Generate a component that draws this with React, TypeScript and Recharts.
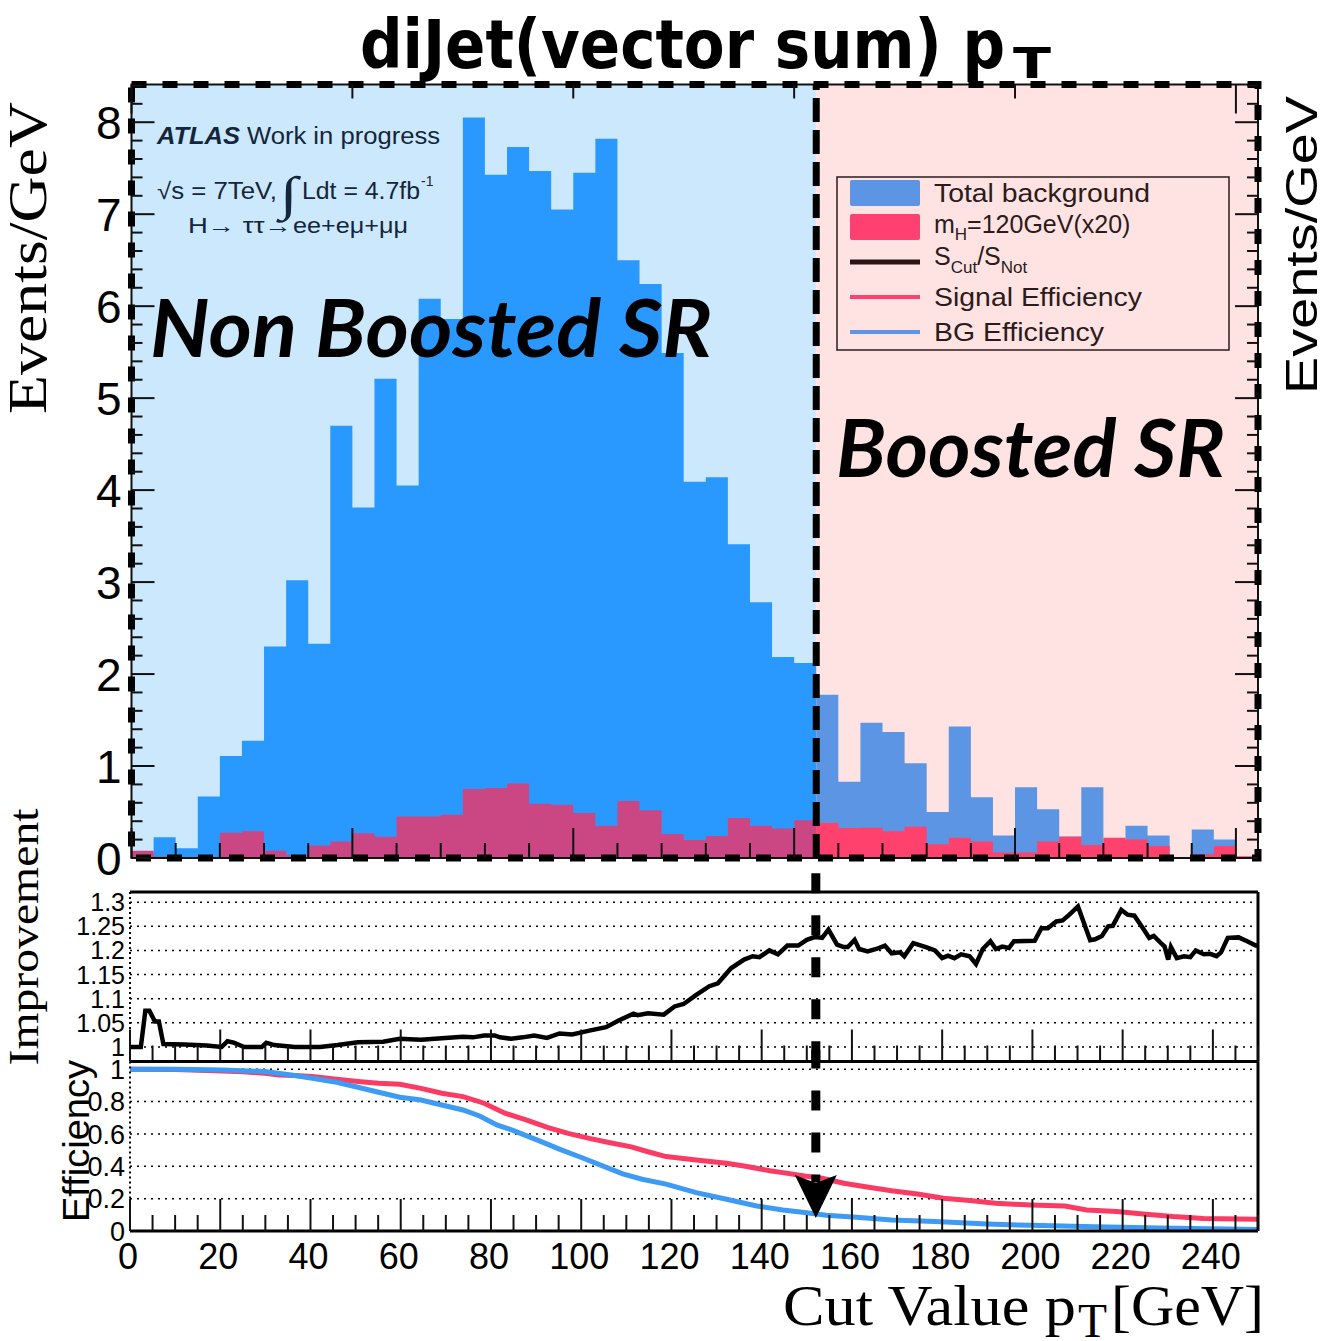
import React from "react";
import {
  Area,
  CartesianGrid,
  ComposedChart,
  Legend,
  Line,
  ReferenceArea,
  ReferenceDot,
  ReferenceLine,
  XAxis,
  YAxis,
} from "recharts";

// ---- data ----

// 5 GeV bins, low edges, top panel runs 0..255
const binLow = Array.from({ length: 51 }, (_, i) => i * 5);
const binHigh = 255;

const background = [
  0.05, 0.225, 0.105, 0.67, 1.11, 1.275, 2.3, 3.02, 2.33, 4.7,
  3.81, 5.21, 4.05, 6.08, 5.86, 8.05, 7.43, 7.73, 7.47, 7.05,
  7.45, 7.82, 6.5, 6.24, 5.49, 4.09, 4.14, 3.41, 2.78, 2.185,
  2.12, 1.775, 0.83, 1.47, 1.37, 1.03, 0.5, 1.43, 0.66, 0.245,
  0.77, 0.53, 0.235, 0.77, 0.15, 0.35, 0.245, 0.0, 0.31, 0.2,
  0.0,
];

const signal = [
  0.08, 0.015, 0.01, 0.01, 0.275, 0.29, 0.08, 0.03, 0.135, 0.18,
  0.27, 0.23, 0.45, 0.45, 0.47, 0.75, 0.76, 0.81, 0.59, 0.58,
  0.49, 0.35, 0.62, 0.52, 0.26, 0.195, 0.24, 0.435, 0.35, 0.32,
  0.41, 0.38, 0.325, 0.33, 0.29, 0.34, 0.15, 0.22, 0.18, 0.06,
  0.06, 0.18, 0.23, 0.14, 0.22, 0.2, 0.13, 0.0, 0.04, 0.13,
  0.02,
];

// region split: histogram edge in the top panel, cut value in the lower panels
const boostEdge = 155;
const cutValue = 152;

// S_cut / S_not
const impX = [
  0, 2.4, 3.4, 4.3, 5.5, 6.4, 7.4, 12, 17, 20.3, 21.6, 23, 25.3, 29.2, 30.2, 32, 36.5, 42.1, 46,
  50.5, 56.1, 59.8, 62, 64.5, 69.1, 73.8, 76, 78.5, 80.8, 82, 84.5, 87, 89.6, 92.4, 95.2, 98,
  101.8, 105.5, 108.3, 111.6, 112.5, 114.8, 118.3, 120.7, 122.7, 125.5, 128.4, 130.3, 133.2,
  136.1, 138, 139.5, 141.7, 143.6, 145.7, 148.1, 150, 151.9, 153.4, 154.8, 156.7, 158.2, 159.1,
  160.6, 161.6, 163.5, 165.4, 167.3, 168.8, 170.7, 171.6, 173.6, 176.4, 178.4, 180, 181.3, 182.7,
  184.2, 186.1, 187.5, 189, 190.7, 191.9, 193.3, 194.8, 195.9, 200.5, 202, 203.4, 205.3, 206.7,
  208.2, 210.1, 212.8, 213.9, 215.4, 216.8, 217.8, 219.7, 221.1, 222.6, 224.5, 225.9, 226.9,
  228.3, 229.3, 230.1, 230.7, 232, 233.6, 235, 236.2, 238, 239.4, 240.8, 241.8, 243.3, 245.7,
  247.6, 249.5, 250,
];
const impY = [
  1.0, 1.0, 1.075, 1.075, 1.053, 1.053, 1.006, 1.005, 1.003, 1.0, 1.012, 1.009, 1.0, 1.0, 1.009,
  1.004, 1.0, 1.0, 1.004, 1.01, 1.011, 1.017, 1.016, 1.015, 1.018, 1.021, 1.02, 1.024, 1.024, 1.02,
  1.017, 1.02, 1.024, 1.019, 1.028, 1.026, 1.034, 1.041, 1.055, 1.069, 1.066, 1.07, 1.067, 1.084,
  1.089, 1.108, 1.126, 1.132, 1.163, 1.181, 1.188, 1.186, 1.2, 1.192, 1.21, 1.21, 1.222, 1.228,
  1.226, 1.243, 1.212, 1.207, 1.207, 1.222, 1.203, 1.198, 1.203, 1.21, 1.194, 1.196, 1.188, 1.215,
  1.207, 1.2, 1.184, 1.189, 1.184, 1.192, 1.188, 1.172, 1.203, 1.219, 1.203, 1.208, 1.205, 1.219,
  1.22, 1.246, 1.246, 1.26, 1.262, 1.274, 1.291, 1.221, 1.223, 1.23, 1.25, 1.251, 1.284, 1.274,
  1.272, 1.246, 1.226, 1.23, 1.217, 1.208, 1.181, 1.207, 1.184, 1.188, 1.186, 1.2, 1.192, 1.193,
  1.188, 1.196, 1.226, 1.227, 1.219, 1.21, 1.21,
];

const sigEffX = [
  0, 10, 20.3, 25, 29.9, 33, 36.5, 40.4, 45.8, 50.5, 55.1, 59.8, 64.5, 69.1, 73.8, 78.5, 83.1,
  87.8, 92.5, 97.1, 101.8, 106.4, 111.1, 114.8, 118.8, 125.5, 132.2, 136.1, 141.8, 144.7, 149.5,
  153.4, 158.2, 163, 168.8, 174.5, 180.3, 186.1, 191.8, 199.5, 207.2, 212, 218.7, 224.5, 231.2,
  237.9, 250,
];
const sigEffY = [
  1.0, 0.998, 0.99, 0.985, 0.975, 0.965, 0.962, 0.955, 0.938, 0.924, 0.913, 0.907, 0.882, 0.852,
  0.831, 0.79, 0.728, 0.687, 0.641, 0.604, 0.573, 0.546, 0.52, 0.49, 0.46, 0.439, 0.419, 0.402,
  0.373, 0.361, 0.34, 0.326, 0.295, 0.274, 0.249, 0.229, 0.202, 0.188, 0.171, 0.161, 0.155, 0.13,
  0.12, 0.105, 0.089, 0.078, 0.072,
];

const bgEffX = [
  0, 10, 20.3, 29.9, 36.5, 40.4, 45.8, 50.5, 55.1, 59.8, 64.5, 69.1, 73.8, 77.5, 81.3, 85, 90.6,
  95.3, 99.9, 104.6, 109.2, 113.5, 118.8, 125.5, 132.2, 138.9, 144.7, 149.5, 154.3, 161, 168.8,
  178.4, 189.9, 199.5, 213.9, 228.3, 250,
];
const bgEffY = [
  1.0, 1.0, 0.996, 0.986, 0.961, 0.944, 0.92, 0.889, 0.858, 0.827, 0.81, 0.779, 0.748, 0.711,
  0.656, 0.621, 0.559, 0.505, 0.456, 0.404, 0.353, 0.32, 0.29, 0.237, 0.196, 0.155, 0.13, 0.115,
  0.097, 0.085, 0.068, 0.058, 0.043, 0.035, 0.027, 0.019, 0.01,
];

// tick labels
const topYLabels = [0, 1, 2, 3, 4, 5, 6, 7, 8];
const impYLabels = [1, 1.05, 1.1, 1.15, 1.2, 1.25, 1.3];
const effYLabels = [0, 0.2, 0.4, 0.6, 0.8, 1];
const xLabels = [0, 20, 40, 60, 80, 100, 120, 140, 160, 180, 200, 220, 240];

// ---- derived tables ----

const nLeft = binLow.findIndex((v) => v >= boostEdge);
const histRows = [...binLow, binHigh].map((x, e) => {
  const i = Math.min(e, binLow.length - 1);
  const li = Math.min(e, nLeft - 1);
  const inLeft = e <= nLeft;
  const inRight = e >= nLeft;
  return {
    x,
    bgL: inLeft ? background[li] : null,
    sigL: inLeft ? signal[li] : null,
    bgR: inRight ? background[i] : null,
    sigR: inRight ? signal[i] : null,
  };
});
const impRows = impX.map((x, i) => ({ x, v: impY[i] }));
const sigEffRows = sigEffX.map((x, i) => ({ x, v: sigEffY[i] }));
const bgEffRows = bgEffX.map((x, i) => ({ x, v: bgEffY[i] }));

const topXTicks = Array.from({ length: 26 }, (_, i) => i * 10);
const topYTicks = Array.from({ length: 43 }, (_, i) => Math.round(i * 2) / 10);
const lowXTicks = Array.from({ length: 51 }, (_, i) => i * 5);

// ---- styles ----

const SANS = "'Liberation Sans', Arial, Helvetica, sans-serif";
const SERIF = "'Liberation Serif', 'Times New Roman', serif";
const TITLE = "'DejaVu Sans Condensed', 'Liberation Sans Narrow', 'Liberation Sans', sans-serif";
const SR = "Lato, 'Open Sans', sans-serif";
const INK = "#111";
const ATLAS_INK = "#13263a";

const TOP_MAX = 8.41;
const IMP_DOMAIN: [number, number] = [0.97, 1.321];
const EFF_DOMAIN: [number, number] = [0, 1.048];

const isMult = (v: number, m: number) => Math.abs(v / m - Math.round(v / m)) < 1e-6;

type TickProps = { x: number; y: number; payload: { value: number } };

// axes are 1px thick (Recharts skips drawing a zero-size axis)
function xTick(dir: number, majorStep: number, long: number, short: number, labels?: number[]) {
  return ({ x, y, payload }: TickProps) => {
    const v = payload.value;
    const len = isMult(v, majorStep) ? long : short;
    return (
      <g>
        <line x1={x} x2={x} y1={y} y2={y + dir * len} stroke={INK} strokeWidth={2} />
        {labels && labels.includes(v) ? (
          <text x={x - 2} y={y + 38} textAnchor="middle" fontFamily={SANS} fontSize={36} fill="#000">
            {v}
          </text>
        ) : null}
      </g>
    );
  };
}

function topYTick(dir: number, withLabel: boolean) {
  return ({ x, y, payload }: TickProps) => {
    const v = payload.value;
    const major = isMult(v, 1);
    const len = major ? 23 : 11;
    return (
      <g>
        <line x1={x} x2={x + dir * len} y1={y} y2={y} stroke={INK} strokeWidth={2} />
        {withLabel && major ? (
          <text x={x - 10} y={y} dy="0.36em" textAnchor="end" fontFamily={SANS} fontSize={46} fill="#000">
            {v}
          </text>
        ) : null}
      </g>
    );
  };
}

function labelOnlyYTick(fontSize: number) {
  return ({ x, y, payload }: TickProps) => (
    <text x={x - 5} y={y} dy="0.36em" textAnchor="end" fontFamily={SANS} fontSize={fontSize} fill="#000">
      {payload.value}
    </text>
  );
}

function ArrowHead(props: { cx?: number; cy?: number }) {
  const cx = props.cx ?? 0;
  const cy = props.cy ?? 0;
  return (
    <polygon
      points={`${cx},${cy} ${cx - 21},${cy - 43} ${cx},${cy - 35} ${cx + 21},${cy - 43}`}
      fill="#000"
    />
  );
}

function LegendBox() {
  const rows = [17, 51, 86, 121, 156];
  const txt = { fontFamily: SANS, fontSize: 25, fill: "#2b1b1b" };
  return (
    <svg width={394} height={176} style={{ display: "block" }}>
      <rect x={1} y={1} width={392} height={173} fill="none" stroke="#2b1d1d" strokeWidth={1.5} />
      <rect x={14} y={rows[0] - 13} width={70} height={26} rx={2} fill="#5B95E3" />
      <rect x={14} y={rows[1] - 13} width={70} height={26} rx={2} fill="#FF4070" />
      <line x1={14} x2={84} y1={rows[2]} y2={rows[2]} stroke="#2a1414" strokeWidth={5} />
      <line x1={14} x2={84} y1={rows[3]} y2={rows[3]} stroke="#FF4070" strokeWidth={4} />
      <line x1={14} x2={84} y1={rows[4]} y2={rows[4]} stroke="#5B95E3" strokeWidth={4} />
      <text x={98} y={rows[0] + 9} {...txt} textLength={216} lengthAdjust="spacingAndGlyphs">Total background</text>
      <text x={98} y={rows[1] + 6} {...txt}>
        m<tspan fontSize={17} dy={7}>H</tspan>
        <tspan dy={-7}>=120GeV(x20)</tspan>
      </text>
      <text x={98} y={rows[2] + 3} {...txt}>
        S<tspan fontSize={17} dy={8}>Cut</tspan>
        <tspan dy={-8}>/S</tspan>
        <tspan fontSize={17} dy={8}>Not</tspan>
      </text>
      <text x={98} y={rows[3] + 9} {...txt} textLength={208} lengthAdjust="spacingAndGlyphs">Signal Efficiency</text>
      <text x={98} y={rows[4] + 9} {...txt} textLength={170} lengthAdjust="spacingAndGlyphs">BG Efficiency</text>
    </svg>
  );
}

function TopPanel() {
  return (
    <ComposedChart
      width={1322}
      height={900}
      data={histRows}
      margin={{ top: 83.5, right: 63, bottom: 41, left: 130.5 }}
    >
      <XAxis
        dataKey="x"
        type="number"
        domain={[0, binHigh]}
        allowDataOverflow
        ticks={topXTicks}
        interval={0}
        height={1}
        tickSize={0}
        tickMargin={0}
        axisLine={false}
        tick={xTick(-1, 50, 30, 15)}
      />
      <XAxis
        xAxisId="t"
        orientation="top"
        type="number"
        domain={[0, binHigh]}
        allowDataOverflow
        ticks={topXTicks}
        interval={0}
        height={1}
        tickSize={0}
        tickMargin={0}
        axisLine={false}
        tick={xTick(1, 50, 29, 14)}
      />
      <YAxis
        type="number"
        domain={[0, TOP_MAX]}
        allowDataOverflow
        ticks={topYTicks}
        interval={0}
        width={1}
        tickSize={0}
        tickMargin={0}
        axisLine={false}
        tick={topYTick(1, true)}
      />
      <YAxis
        yAxisId="r"
        orientation="right"
        type="number"
        domain={[0, TOP_MAX]}
        allowDataOverflow
        ticks={topYTicks}
        interval={0}
        width={1}
        tickSize={0}
        tickMargin={0}
        axisLine={false}
        tick={topYTick(-1, false)}
      />
      <ReferenceArea x1={0} x2={boostEdge} y1={0} y2={TOP_MAX} fill="#CCE8FD" fillOpacity={1} stroke="none" />
      <ReferenceArea x1={boostEdge} x2={binHigh} y1={0} y2={TOP_MAX} fill="#FFE3E3" fillOpacity={1} stroke="none" />
      <Area dataKey="bgL" type="stepAfter" fill="#2A99FF" fillOpacity={1} stroke="none" isAnimationActive={false} />
      <Area dataKey="bgR" type="stepAfter" fill="#5C95E3" fillOpacity={1} stroke="none" isAnimationActive={false} />
      <Area dataKey="sigL" type="stepAfter" fill="#CB4784" fillOpacity={1} stroke="none" isAnimationActive={false} />
      <Area dataKey="sigR" type="stepAfter" fill="#FF416E" fillOpacity={1} stroke="none" isAnimationActive={false} />
      <ReferenceArea x1={0} x2={binHigh} y1={0} y2={TOP_MAX} fill="none" stroke={INK} strokeWidth={2} />
      <ReferenceArea
        x1={0}
        x2={binHigh}
        y1={0}
        y2={TOP_MAX}
        fill="none"
        stroke="#000"
        strokeWidth={7}
        strokeDasharray="15 16"
      />
      <ReferenceLine x={boostEdge} stroke="#000" strokeWidth={7} strokeDasharray="24 8" />
      <Legend
        layout="horizontal"
        verticalAlign="middle"
        align="center"
        wrapperStyle={{ left: 836, top: 176, width: 394, height: 176 }}
        content={() => <LegendBox />}
      />
    </ComposedChart>
  );
}

function lowerAxes(domain: [number, number], yLabels: number[], labelSize: number, bottomLabels?: number[]) {
  return [
    <XAxis
      key="xb"
      dataKey="x"
      type="number"
      domain={[0, 250]}
      allowDataOverflow
      ticks={lowXTicks}
      interval={0}
      height={1}
      tickSize={0}
      tickMargin={0}
      axisLine={{ stroke: "#000", strokeWidth: 3 }}
      tick={xTick(-1, 20, 32, 16, bottomLabels)}
    />,
    <XAxis
      key="xt"
      xAxisId="t"
      orientation="top"
      type="number"
      domain={[0, 250]}
      allowDataOverflow
      ticks={lowXTicks}
      interval={0}
      height={1}
      tickSize={0}
      tickMargin={0}
      axisLine={{ stroke: "#000", strokeWidth: 3 }}
      tick={xTick(1, 20, 31, 18)}
    />,
    <YAxis
      key="yl"
      type="number"
      domain={domain}
      allowDataOverflow
      ticks={yLabels}
      interval={0}
      width={1}
      tickSize={0}
      tickMargin={0}
      axisLine={{ stroke: "#000", strokeWidth: 2, strokeDasharray: "2 3" }}
      tick={labelOnlyYTick(labelSize)}
    />,
    <YAxis
      key="yr"
      yAxisId="r"
      orientation="right"
      type="number"
      domain={domain}
      allowDataOverflow
      ticks={yLabels}
      width={1}
      tickSize={0}
      tickMargin={0}
      tick={() => <g />}
      axisLine={{ stroke: "#000", strokeWidth: 3 }}
    />,
  ];
}

function ImprovementPanel() {
  return (
    <ComposedChart width={1322} height={210} margin={{ top: 31, right: 63, bottom: 7.5, left: 129 }}>
      {lowerAxes(IMP_DOMAIN, impYLabels, 25)}
      <CartesianGrid vertical={false} stroke="#000" strokeWidth={1.5} strokeDasharray="2 5" />
      <Line
        data={impRows}
        dataKey="v"
        type="linear"
        stroke="#000"
        strokeWidth={4.5}
        strokeLinejoin="miter"
        dot={false}
        isAnimationActive={false}
      />
      <ReferenceLine
        segment={[
          { x: cutValue, y: 1.36 },
          { x: cutValue, y: IMP_DOMAIN[0] },
        ]}
        ifOverflow="visible"
        stroke="#000"
        strokeWidth={9}
        strokeDasharray="20 22"
      />
    </ComposedChart>
  );
}

function EfficiencyPanel() {
  return (
    <ComposedChart width={1322} height={291} margin={{ top: 10.5, right: 63, bottom: 109, left: 129 }}>
      {lowerAxes(EFF_DOMAIN, effYLabels, 27, xLabels)}
      <CartesianGrid vertical={false} stroke="#000" strokeWidth={1.5} strokeDasharray="2 5" />
      <Line
        data={sigEffRows}
        dataKey="v"
        type="linear"
        stroke="#FA3B64"
        strokeWidth={5}
        dot={false}
        isAnimationActive={false}
      />
      <Line
        data={bgEffRows}
        dataKey="v"
        type="linear"
        stroke="#3D9BF5"
        strokeWidth={5}
        dot={false}
        isAnimationActive={false}
      />
      <ReferenceLine
        segment={[
          { x: cutValue, y: EFF_DOMAIN[1] + 0.08 },
          { x: cutValue, y: 0.3 },
        ]}
        ifOverflow="visible"
        stroke="#000"
        strokeWidth={9}
        strokeDasharray="20 22"
      />
      <ReferenceDot x={cutValue} y={0.08} r={0} ifOverflow="visible" shape={(p: any) => <ArrowHead {...p} />} />
    </ComposedChart>
  );
}

function Labels() {
  return (
    <svg
      width={1322}
      height={1341}
      style={{ position: "absolute", left: 0, top: 0, pointerEvents: "none" }}
    >
      <text x={360} y={68} fontFamily={TITLE} fontWeight="bold" fontSize={68} textLength={645} lengthAdjust="spacingAndGlyphs">
        diJet(vector sum) p
      </text>
      <text x={1013} y={78} fontFamily={TITLE} fontWeight="bold" fontSize={42} textLength={38} lengthAdjust="spacingAndGlyphs">
        T
      </text>

      <text
        transform="translate(46,258) rotate(-90)"
        textAnchor="middle"
        fontFamily={SERIF}
        fontSize={55}
        textLength={312}
        lengthAdjust="spacingAndGlyphs"
      >
        Events/GeV
      </text>
      <text
        transform="translate(1317,245) rotate(-90)"
        textAnchor="middle"
        fontFamily={SANS}
        fontSize={45}
        textLength={298}
        lengthAdjust="spacingAndGlyphs"
      >
        Events/GeV
      </text>
      <text
        transform="translate(38,937) rotate(-90)"
        textAnchor="middle"
        fontFamily={SERIF}
        fontSize={43}
        textLength={257}
        lengthAdjust="spacingAndGlyphs"
      >
        Improvement
      </text>
      <text
        transform="translate(89,1141) rotate(-90)"
        textAnchor="middle"
        fontFamily={SANS}
        fontSize={37}
        textLength={162}
        lengthAdjust="spacingAndGlyphs"
      >
        Efficiency
      </text>

      <text x={783} y={1325} fontFamily={SERIF} fontSize={58} textLength={293} lengthAdjust="spacingAndGlyphs">
        Cut Value p
      </text>
      <text x={1078} y={1337} fontFamily={SERIF} fontSize={48} textLength={29} lengthAdjust="spacingAndGlyphs">
        T
      </text>
      <text x={1111} y={1325} fontFamily={SERIF} fontSize={58} textLength={153} lengthAdjust="spacingAndGlyphs">
        [GeV]
      </text>

      <g fill={ATLAS_INK} fontFamily={SANS}>
        <text x={157} y={144} fontSize={23} fontWeight="bold" fontStyle="italic" textLength={83} lengthAdjust="spacingAndGlyphs">
          ATLAS
        </text>
        <text x={247} y={144} fontSize={23} textLength={193} lengthAdjust="spacingAndGlyphs">
          Work in progress
        </text>
        <text x={157} y={199} fontSize={23} textLength={120} lengthAdjust="spacingAndGlyphs">
          √s = 7TeV,
        </text>
        <text x={280} y={210} fontSize={48} fontFamily={SERIF} textLength={18} lengthAdjust="spacingAndGlyphs">
          ∫
        </text>
        <text x={302} y={199} fontSize={23} textLength={118} lengthAdjust="spacingAndGlyphs">
          Ldt = 4.7fb
        </text>
        <text x={421} y={186} fontSize={14}>
          -1
        </text>
        <text x={188} y={233} fontSize={22} textLength={104} lengthAdjust="spacingAndGlyphs">
          H→ ττ→
        </text>
        <text x={293} y={233} fontSize={22} textLength={115} lengthAdjust="spacingAndGlyphs">
          ee+eμ+μμ
        </text>
      </g>

      <text
        x={150}
        y={357}
        fontFamily={SR}
        fontWeight="bold"
        fontStyle="italic"
        fontSize={80}
        textLength={562}
        lengthAdjust="spacingAndGlyphs"
      >
        Non Boosted SR
      </text>
      <text
        x={836}
        y={477}
        fontFamily={SR}
        fontWeight="bold"
        fontStyle="italic"
        fontSize={80}
        textLength={389}
        lengthAdjust="spacingAndGlyphs"
      >
        Boosted SR
      </text>
    </svg>
  );
}

export default function App() {
  return (
    <div style={{ position: "absolute", left: 0, top: 0, width: 1322, height: 1341, background: "#fff" }}>
      <div style={{ position: "absolute", left: 0, top: 0 }}>
        <TopPanel />
      </div>
      <div style={{ position: "absolute", left: 0, top: 860 }}>
        <ImprovementPanel />
      </div>
      <div style={{ position: "absolute", left: 0, top: 1050 }}>
        <EfficiencyPanel />
      </div>
      <Labels />
    </div>
  );
}
